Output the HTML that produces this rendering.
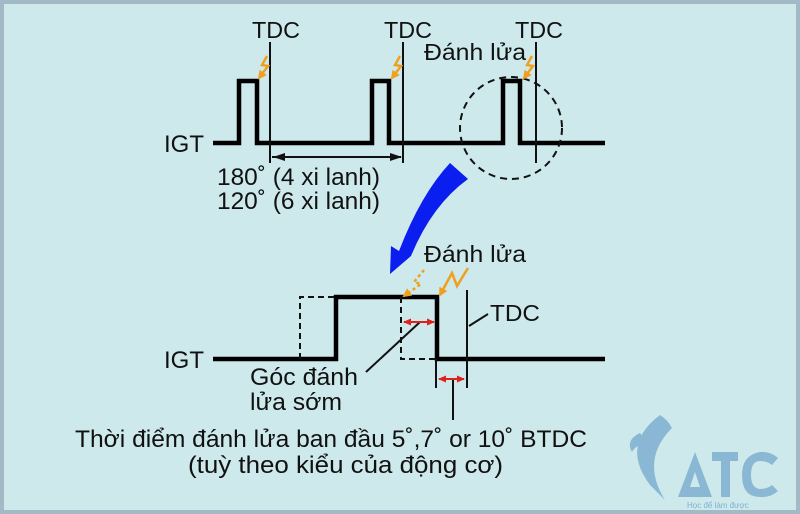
<!DOCTYPE html>
<html><head><meta charset="utf-8"><style>
html,body{margin:0;padding:0;}
body{width:800px;height:514px;overflow:hidden;background:#a3b9c6;}
svg{display:block;}
text{font-family:"Liberation Sans",Arial,sans-serif;fill:#111;}
</style></head><body>
<svg width="800" height="514" viewBox="0 0 800 514" xmlns="http://www.w3.org/2000/svg">
<defs>
<marker id="ab" markerWidth="12" markerHeight="8" refX="11" refY="4" orient="auto" markerUnits="userSpaceOnUse"><path d="M0,0 L12,4 L0,8 z" fill="#111"/></marker>
<marker id="ar" markerWidth="8" markerHeight="7" refX="7" refY="3.5" orient="auto-start-reverse" markerUnits="userSpaceOnUse"><path d="M0,0 L8,3.5 L0,7 z" fill="#e0201c"/></marker>
<marker id="ao" markerWidth="9" markerHeight="9" refX="7" refY="4.5" orient="auto" markerUnits="userSpaceOnUse"><path d="M0,0 L9,4.5 L0,9 z" fill="#f0a020"/></marker>
</defs>
<rect x="4" y="4" width="792" height="506" fill="#cde9ec"/>
<path d="M213,143 H239 V81 H257 V143 H372 V81 H389 V143 H503 V81 H520 V143 H605" fill="none" stroke="#000" stroke-width="4.5"/>
<g stroke="#111" stroke-width="2">
<line x1="270" y1="42" x2="270" y2="163"/>
<line x1="403" y1="42" x2="403" y2="163"/>
<line x1="536" y1="42" x2="536" y2="163"/>
<line x1="272" y1="157" x2="401" y2="157" marker-end="url(#ab)"/>
<line x1="401" y1="157" x2="274" y2="157" marker-end="url(#ab)"/>
</g>
<circle cx="511" cy="128" r="51" fill="none" stroke="#111" stroke-width="2" stroke-dasharray="7,5"/>
<text x="276" y="38" font-size="23" text-anchor="middle" textLength="48" lengthAdjust="spacingAndGlyphs">TDC</text>
<text x="408" y="38" font-size="23" text-anchor="middle" textLength="48" lengthAdjust="spacingAndGlyphs">TDC</text>
<text x="539" y="38" font-size="23" text-anchor="middle" textLength="48" lengthAdjust="spacingAndGlyphs">TDC</text>
<text x="424" y="60" font-size="23" textLength="102" lengthAdjust="spacingAndGlyphs">Đánh lửa</text>
<text x="164" y="152" font-size="24" textLength="40" lengthAdjust="spacingAndGlyphs">IGT</text>
<text x="217" y="185" font-size="24" textLength="163" lengthAdjust="spacingAndGlyphs">180˚ (4 xi lanh)</text>
<text x="217" y="209" font-size="24" textLength="163" lengthAdjust="spacingAndGlyphs">120˚ (6 xi lanh)</text>
<g fill="none" stroke="#f0a020" stroke-width="2.5">
<path d="M267,56 L262,65 L268,66 L259,78" marker-end="url(#ao)"/>
<path d="M400,56 L395,65 L401,66 L392,78" marker-end="url(#ao)"/>
<path d="M532,56 L527,65 L533,66 L524,78" marker-end="url(#ao)"/>
</g>
<path d="M450,163 L468,179 Q432,205 411,256 L390,274 L391,246 L399,251 Q421,194 450,163 Z" fill="#0a1ef0"/>
<path d="M213,359 H336 V297 H437 V359 H605" fill="none" stroke="#000" stroke-width="4.5"/>
<g stroke="#111" stroke-width="2" fill="none" stroke-dasharray="6,4">
<path d="M300,359 V297 H334"/>
<path d="M401,297 V359 H435"/>
</g>
<g stroke="#111" stroke-width="2">
<line x1="467" y1="290" x2="467" y2="388"/>
<line x1="436" y1="359" x2="436" y2="388"/>
<line x1="453" y1="380" x2="453" y2="420"/>
<line x1="469" y1="326" x2="488" y2="314"/>
<line x1="420" y1="322" x2="366" y2="372"/>
</g>
<g stroke="#e0201c" stroke-width="2">
<line x1="404" y1="322" x2="434" y2="322" marker-end="url(#ar)" marker-start="url(#ar)"/>
<line x1="439" y1="379" x2="464" y2="379" marker-end="url(#ar)" marker-start="url(#ar)"/>
</g>
<g fill="none" stroke="#f0a020" stroke-width="2.5">
<path d="M424,270 L414,282 L421,284 L404,296" stroke-dasharray="3,3" marker-end="url(#ao)"/>
<path d="M468,268 L457,286 L452,273 L440,295" marker-end="url(#ao)"/>
</g>
<text x="424" y="262" font-size="23" textLength="102" lengthAdjust="spacingAndGlyphs">Đánh lửa</text>
<text x="490" y="321" font-size="23" textLength="50" lengthAdjust="spacingAndGlyphs">TDC</text>
<text x="164" y="368" font-size="24" textLength="40" lengthAdjust="spacingAndGlyphs">IGT</text>
<text x="250" y="385" font-size="24" textLength="108" lengthAdjust="spacingAndGlyphs">Góc đánh</text>
<text x="250" y="410" font-size="24" textLength="92" lengthAdjust="spacingAndGlyphs">lửa sớm</text>
<text x="75" y="447" font-size="24" textLength="512" lengthAdjust="spacingAndGlyphs">Thời điểm đánh lửa ban đầu 5˚,7˚ or 10˚ BTDC</text>
<text x="188" y="473" font-size="24" textLength="315" lengthAdjust="spacingAndGlyphs">(tuỳ theo kiểu của động cơ)</text>
<g fill="#7fb0d0" opacity="0.85">
<path d="M660,415 Q620,445 650,485 L665,500 Q640,460 672,428 Q668,420 660,415 Z"/>
<path d="M640,433 Q625,440 632,452 Q636,444 648,444 Z"/>
<path d="M678,497 L695,452 L712,497 Z M690,487 L700,487 L695,472 Z" fill-rule="evenodd"/>
<rect x="712" y="452" width="26" height="9"/>
<rect x="721" y="452" width="9" height="45"/>
<path d="M778,458 Q770,451 760,452 Q742,455 742,475 Q742,497 760,497 Q770,498 778,491 L772,485 Q767,489 760,489 Q751,488 751,475 Q751,461 760,461 Q767,461 772,465 Z"/>
</g>
<text x="687" y="508" font-size="8" style="fill:#7fb0d0">Học để làm được</text>
</svg>
</body></html>
